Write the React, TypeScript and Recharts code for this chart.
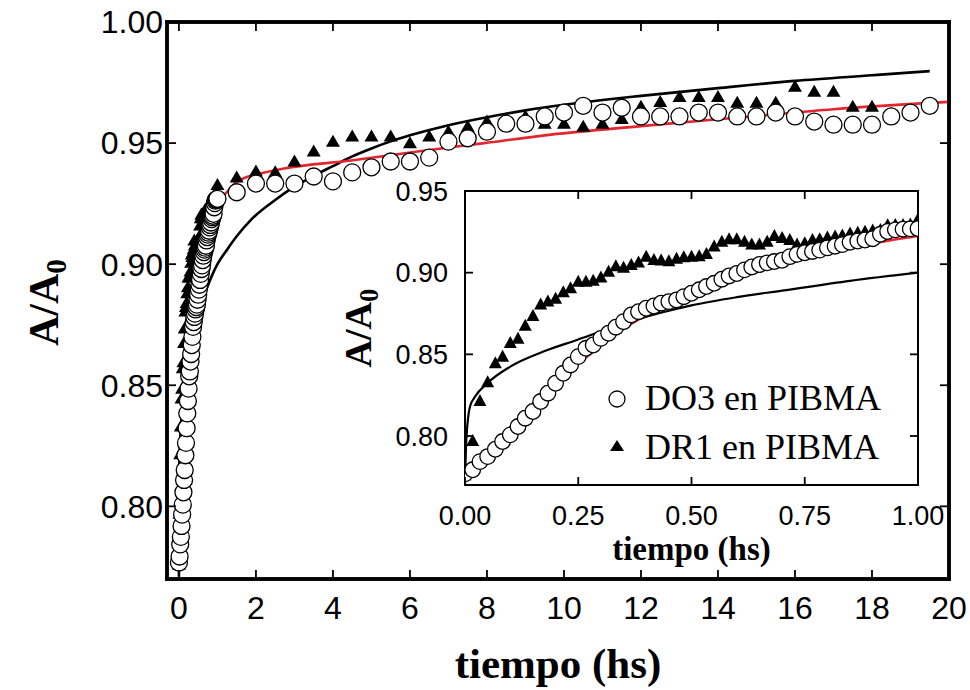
import React from 'react';
import { ComposedChart, Scatter, Line, XAxis, YAxis, Label, Legend, CartesianGrid, ReferenceArea } from 'recharts';

// ---------- data (time in hours, A/A0) ----------
const INSET_T = [
  0, 0.017, 0.033, 0.05, 0.067, 0.083, 0.1, 0.117, 0.133, 0.15, 0.167, 0.183, 0.2, 0.217, 0.233, 0.25,
  0.267, 0.283, 0.3, 0.317, 0.333, 0.35, 0.367, 0.383, 0.4, 0.417, 0.433, 0.45, 0.467, 0.483, 0.5,
  0.517, 0.533, 0.55, 0.567, 0.583, 0.6, 0.617, 0.633, 0.65, 0.667, 0.683, 0.7, 0.717, 0.733, 0.75,
  0.767, 0.783, 0.8, 0.817, 0.833, 0.85, 0.867, 0.883, 0.9, 0.917, 0.933, 0.95, 0.967, 0.983, 1.0,
];
const DO3_EARLY = [
  0.7768, 0.7793, 0.7843, 0.7874, 0.7919, 0.7966, 0.8007, 0.8058, 0.8109, 0.815, 0.8211, 0.8262, 0.8323,
  0.8384, 0.8435, 0.8486, 0.8537, 0.8557, 0.8598, 0.8629, 0.8666, 0.87, 0.8741, 0.8761, 0.8782, 0.8796,
  0.8813, 0.8823, 0.8833, 0.8853, 0.8874, 0.8895, 0.8915, 0.8935, 0.896, 0.898, 0.8995, 0.9017, 0.9035,
  0.905, 0.906, 0.9068, 0.9076, 0.9098, 0.9112, 0.9122, 0.913, 0.9138, 0.9152, 0.9162, 0.9172, 0.9186,
  0.9194, 0.92, 0.9208, 0.9235, 0.9252, 0.9262, 0.9266, 0.9268, 0.927,
];
const DR1_EARLY = [
  0.776, 0.797, 0.8215, 0.833, 0.8445, 0.8486, 0.857, 0.8595, 0.8675, 0.8735, 0.8805, 0.8823, 0.884,
  0.888, 0.8905, 0.8945, 0.8945, 0.895, 0.897, 0.9006, 0.904, 0.903, 0.9047, 0.9062, 0.9098, 0.9078,
  0.9075, 0.907, 0.9085, 0.9095, 0.9098, 0.91, 0.9115, 0.916, 0.919, 0.9205, 0.9205, 0.919, 0.9172,
  0.9172, 0.919, 0.9225, 0.9212, 0.92, 0.9172, 0.918, 0.92, 0.9205, 0.9215, 0.9222, 0.9228, 0.924,
  0.9245, 0.925, 0.9258, 0.9262, 0.929, 0.9292, 0.9292, 0.9295, 0.9327,
];
const LATE_T = [
  1.5, 2, 2.5, 3, 3.5, 4, 4.5, 5, 5.5, 6, 6.5, 7, 7.5, 8, 8.5, 9, 9.5, 10, 10.5, 11, 11.5, 12, 12.5,
  13, 13.5, 14, 14.5, 15, 15.5, 16, 16.5, 17, 17.5, 18, 18.5, 19, 19.5,
];
const DO3_LATE = [
  0.9297, 0.9333, 0.9333, 0.9333, 0.9362, 0.9342, 0.9379, 0.94, 0.9424, 0.9424, 0.944, 0.9506, 0.952,
  0.9547, 0.958, 0.958, 0.961, 0.9626, 0.9654, 0.9626, 0.9646, 0.961, 0.961, 0.961, 0.9626, 0.9626,
  0.961, 0.961, 0.9626, 0.961, 0.9589, 0.9576, 0.9576, 0.9576, 0.961, 0.9626, 0.9654,
];
const DR1_LATE = [
  0.9358, 0.9383, 0.938, 0.9424, 0.9465, 0.9506, 0.9527, 0.9527, 0.9527, 0.95, 0.9527, 0.9547, 0.9568,
  0.9589, 0.96, 0.961, 0.958, 0.958, 0.9568, 0.958, 0.96, 0.965, 0.967, 0.969, 0.969, 0.969, 0.9667,
  0.9667, 0.9667, 0.9733, 0.9712, 0.9712, 0.965, 0.965, 0.962, 0.963, 0.966,
];
const BLACK_FIT_T = [
  0, 0.003, 0.011, 0.022, 0.048, 0.1, 0.173, 0.247, 0.321, 0.43, 0.5, 0.6, 0.7, 0.85, 1.0, 1.25, 1.5,
  1.87, 2.5, 3, 3.5, 4, 4.5, 5, 5.5, 6, 7, 8, 9, 10, 11, 12, 14, 16, 18, 19.5,
];
const BLACK_FIT_A = [
  0.771, 0.798, 0.818, 0.824, 0.832, 0.8425, 0.8517, 0.8588, 0.866, 0.8753, 0.88, 0.885, 0.889, 0.895,
  0.9, 0.906, 0.9115, 0.9183, 0.9265, 0.932, 0.9365, 0.9405, 0.9445, 0.9478, 0.9507, 0.9532, 0.9574,
  0.9607, 0.9635, 0.9658, 0.9678, 0.9695, 0.9727, 0.9757, 0.978, 0.9797,
];
const RED_FIT_T = [
  0, 0.063, 0.136, 0.21, 0.284, 0.358, 0.431, 0.498, 0.56, 0.624, 0.7, 0.77, 0.85, 0.918, 1.0, 1.12,
  1.26, 1.5, 1.76, 2.0, 2.73, 4.47, 6.2, 7.93, 9.66, 12, 14.86, 17, 20,
];
const RED_FIT_A = [
  0.775, 0.7945, 0.816, 0.8354, 0.8517, 0.867, 0.8782, 0.8864, 0.893, 0.8986, 0.9045, 0.9096, 0.9148,
  0.9188, 0.9225, 0.9275, 0.93, 0.934, 0.936, 0.937, 0.9395, 0.9428, 0.9465, 0.95, 0.9535, 0.957, 0.961,
  0.964, 0.967,
];

const LEGEND_LABELS = ['DO3 en PIBMA', 'DR1 en PIBMA'];
const MAIN_X_TICKS = [0, 2, 4, 6, 8, 10, 12, 14, 16, 18, 20];
const MAIN_Y_TICKS = [0.8, 0.85, 0.9, 0.95, 1.0];
const INSET_X_TICKS = [0, 0.25, 0.5, 0.75, 1.0];
const INSET_Y_TICKS = [0.8, 0.85, 0.9, 0.95];
const X_TITLE = 'tiempo (hs)';
const MAIN_X_DOMAIN: [number, number] = [-0.31, 20];
const MAIN_Y_DOMAIN: [number, number] = [0.77, 1.0];
const INSET_X_DOMAIN: [number, number] = [0, 1];
const INSET_Y_DOMAIN: [number, number] = [0.77, 0.95];

// ---------- derived series ----------
const zip = (t: number[], a: number[]) => t.map((x, i) => ({ x, y: a[i] }));
const do3Inset = zip(INSET_T, DO3_EARLY);
const dr1Inset = zip(INSET_T, DR1_EARLY);
const do3Main = [...do3Inset, ...zip(LATE_T, DO3_LATE)];
const dr1Main = [...dr1Inset, ...zip(LATE_T, DR1_LATE)];
const blackFit = zip(BLACK_FIT_T, BLACK_FIT_A);
const redFit = zip(RED_FIT_T, RED_FIT_A);
const blackInset = blackFit.filter((p) => p.x <= 1.0001);
const redInset = redFit.filter((p) => p.x <= 1.0001);

const RED = '#e3262e';
const SANS = '"Liberation Sans", Arial, sans-serif';
const SERIF = '"Liberation Serif", "Times New Roman", serif';

const circleShape = (r: number) => (props: any) => (
  <circle cx={props.cx} cy={props.cy} r={r} fill="#fff" stroke="#000" strokeWidth={1.3} />
);
const triShape = (w: number, h: number) => (props: any) => {
  const { cx, cy } = props;
  return (
    <polygon
      points={`${cx},${cy - h * 0.58} ${cx - w / 2},${cy + h * 0.42} ${cx + w / 2},${cy + h * 0.42}`}
      fill="#000"
    />
  );
};

// custom ticks: inward tick mark + optional label
type Orient = 'bottom' | 'top' | 'left' | 'right';
const makeTick =
  (orient: Orient, len: number, margin: number, fontSize: number, showLabel: boolean, digits: number | null) =>
  (props: any) => {
    const { x, y, payload } = props;
    const c = Number(payload.coordinate);
    const px = Number(x);
    const py = Number(y);
    const v = payload.value as number;
    const txt = digits === null ? String(v) : v.toFixed(digits);
    let line: React.ReactNode = null;
    let label: React.ReactNode = null;
    if (orient === 'bottom') {
      const ay = py - margin;
      line = <rect x={c - 0.9} y={ay - len} width={1.8} height={len} fill="#000" />;
      if (showLabel)
        label = (
          <text x={c} y={py} dy="0.71em" textAnchor="middle" fontSize={fontSize} fontFamily={SANS} fill="#000">
            {txt}
          </text>
        );
    } else if (orient === 'left') {
      const ax = px + margin;
      line = <rect x={ax} y={c - 0.9} width={len} height={1.8} fill="#000" />;
      if (showLabel)
        label = (
          <text x={px} y={c} dy="0.355em" textAnchor="end" fontSize={fontSize} fontFamily={SANS} fill="#000">
            {txt}
          </text>
        );
    } else if (orient === 'top') {
      const ay = py + margin;
      line = <rect x={c - 0.9} y={ay} width={1.8} height={len} fill="#000" />;
    } else {
      const ax = px - margin;
      line = <rect x={ax - len} y={c - 0.9} width={len} height={1.8} fill="#000" />;
    }
    return (
      <g>
        {line}
        {label}
      </g>
    );
  };

const xTitle = (dy: number, fontSize: number) => (props: any) => {
  const vb = props.viewBox;
  return (
    <text
      x={vb.x + vb.width / 2}
      y={vb.y + dy}
      textAnchor="middle"
      fontFamily={SERIF}
      fontWeight="bold"
      fontSize={fontSize}
      fill="#000"
    >
      {X_TITLE}
    </text>
  );
};

const yTitle = (bx: number, cyOff: number, fontSize: number) => (props: any) => {
  const vb = props.viewBox;
  const x = vb.x + bx;
  const y = vb.y + vb.height / 2 + cyOff;
  return (
    <text
      x={x}
      y={y}
      transform={`rotate(-90, ${x}, ${y})`}
      textAnchor="middle"
      fontFamily={SERIF}
      fontWeight="bold"
      fontSize={fontSize}
      fill="#000"
    >
      A/A
      <tspan dy="0.28em" fontSize="70%">
        0
      </tspan>
    </text>
  );
};

const renderLegend = () => (
  <div style={{ fontFamily: SERIF, fontSize: 36, color: '#000' }}>
    {LEGEND_LABELS.map((label, i) => (
      <div key={label} style={{ display: 'flex', alignItems: 'center', height: 49 }}>
        <svg width={34} height={30} style={{ display: 'block' }}>
          {i === 0 ? (
            <circle cx={17} cy={15} r={8} fill="#fff" stroke="#000" strokeWidth={1.3} />
          ) : (
            <polygon points="17,7 10,18 24,18" fill="#000" />
          )}
        </svg>
        <span style={{ marginLeft: 11, lineHeight: '49px', whiteSpace: 'nowrap' }}>{label}</span>
      </div>
    ))}
  </div>
);

const mainAxisLine = { stroke: '#000', strokeWidth: 3.5, strokeLinecap: 'square' as const };
const insetAxisLine = { stroke: '#000', strokeWidth: 2, strokeLinecap: 'square' as const };

export default function App() {
  return (
    <div style={{ position: 'absolute', left: 0, top: 0, width: 970, height: 690, background: '#fff' }}>
      {/* main chart */}
      <div style={{ position: 'absolute', left: 0, top: 0 }}>
        <ComposedChart width={970} height={690} margin={{ top: 21, right: 20, bottom: 0, left: 0 }}>
          <ReferenceArea
            xAxisId="b"
            yAxisId="l"
            x1={MAIN_X_DOMAIN[0]}
            x2={MAIN_X_DOMAIN[1]}
            y1={MAIN_Y_DOMAIN[0]}
            y2={MAIN_Y_DOMAIN[1]}
            fill="none"
            fillOpacity={0}
            stroke="#000"
            strokeWidth={3.5}
            strokeOpacity={1}
          />
          <XAxis
            xAxisId="b"
            type="number"
            dataKey="x"
            domain={MAIN_X_DOMAIN}
            allowDataOverflow
            ticks={MAIN_X_TICKS}
            interval={0}
            height={111}
            tick={makeTick('bottom', 9, 17, 32, true, null)}
            tickSize={0}
            tickMargin={17}
            tickLine={false}
            axisLine={mainAxisLine}
          >
            <Label content={xTitle(99, 43)} />
          </XAxis>
          <XAxis
            xAxisId="t"
            orientation="top"
            type="number"
            dataKey="x"
            domain={MAIN_X_DOMAIN}
            allowDataOverflow
            ticks={MAIN_X_TICKS}
            interval={0}
            height={1}
            tick={makeTick('top', 9, 0, 0, false, null)}
            tickSize={0}
            tickMargin={0}
            tickLine={false}
            axisLine={mainAxisLine}
          />
          <YAxis
            yAxisId="l"
            type="number"
            dataKey="y"
            domain={MAIN_Y_DOMAIN}
            allowDataOverflow
            ticks={MAIN_Y_TICKS}
            interval={0}
            width={167}
            tick={makeTick('left', 9, 4, 32, true, 2)}
            tickSize={0}
            tickMargin={4}
            tickLine={false}
            axisLine={mainAxisLine}
          >
            <Label content={yTitle(58, 2, 42)} />
          </YAxis>
          <YAxis
            yAxisId="r"
            orientation="right"
            type="number"
            dataKey="y"
            domain={MAIN_Y_DOMAIN}
            allowDataOverflow
            ticks={MAIN_Y_TICKS}
            interval={0}
            width={1}
            tick={makeTick('right', 9, 0, 0, false, 2)}
            tickSize={0}
            tickMargin={0}
            tickLine={false}
            axisLine={mainAxisLine}
          />
          <Line
            data={redFit}
            dataKey="y"
            xAxisId="t"
            yAxisId="r"
            stroke="none"
            dot={false}
            activeDot={false}
            legendType="none"
            isAnimationActive={false}
          />
          <Scatter
            name="DR1"
            data={dr1Main}
            xAxisId="b"
            yAxisId="l"
            shape={triShape(14, 12)}
            isAnimationActive={false}
          />
          <Scatter
            name="DO3"
            data={do3Main}
            xAxisId="b"
            yAxisId="l"
            shape={circleShape(8.5)}
            isAnimationActive={false}
          />
          <Line
            data={blackFit}
            dataKey="y"
            xAxisId="b"
            yAxisId="l"
            type="monotone"
            stroke="#000"
            strokeWidth={2.6}
            dot={false}
            activeDot={false}
            isAnimationActive={false}
          />
          <Line
            data={redFit}
            dataKey="y"
            xAxisId="b"
            yAxisId="l"
            type="monotone"
            stroke={RED}
            strokeWidth={2.6}
            dot={false}
            activeDot={false}
            isAnimationActive={false}
          />
        </ComposedChart>
      </div>

      {/* inset chart */}
      <div style={{ position: 'absolute', left: 0, top: 0 }}>
        <ComposedChart width={970} height={690} margin={{ top: 190, right: 51, bottom: 0, left: 0 }}>
          <CartesianGrid xAxisId="b" yAxisId="l" horizontal={false} vertical={false} fill="#fff" />
          <ReferenceArea
            xAxisId="b"
            yAxisId="l"
            x1={INSET_X_DOMAIN[0]}
            x2={INSET_X_DOMAIN[1]}
            y1={INSET_Y_DOMAIN[0]}
            y2={INSET_Y_DOMAIN[1]}
            fill="none"
            fillOpacity={0}
            stroke="#000"
            strokeWidth={2}
            strokeOpacity={1}
          />
          <XAxis
            xAxisId="b"
            type="number"
            dataKey="x"
            domain={INSET_X_DOMAIN}
            allowDataOverflow
            ticks={INSET_X_TICKS}
            interval={0}
            height={205}
            tick={makeTick('bottom', 8, 21, 27, true, 2)}
            tickSize={0}
            tickMargin={21}
            tickLine={false}
            axisLine={insetAxisLine}
          >
            <Label content={xTitle(75, 33)} />
          </XAxis>
          <XAxis
            xAxisId="t"
            orientation="top"
            type="number"
            dataKey="x"
            domain={INSET_X_DOMAIN}
            allowDataOverflow
            ticks={INSET_X_TICKS}
            interval={0}
            height={1}
            tick={makeTick('top', 8, 0, 0, false, 2)}
            tickSize={0}
            tickMargin={0}
            tickLine={false}
            axisLine={insetAxisLine}
          />
          <YAxis
            yAxisId="l"
            type="number"
            dataKey="y"
            domain={INSET_Y_DOMAIN}
            allowDataOverflow
            ticks={INSET_Y_TICKS}
            interval={0}
            width={465}
            tick={makeTick('left', 8, 17, 27, true, 2)}
            tickSize={0}
            tickMargin={17}
            tickLine={false}
            axisLine={insetAxisLine}
          >
            <Label content={yTitle(371, -10, 38)} />
          </YAxis>
          <YAxis
            yAxisId="r"
            orientation="right"
            type="number"
            dataKey="y"
            domain={INSET_Y_DOMAIN}
            allowDataOverflow
            ticks={INSET_Y_TICKS}
            interval={0}
            width={1}
            tick={makeTick('right', 8, 0, 0, false, 2)}
            tickSize={0}
            tickMargin={0}
            tickLine={false}
            axisLine={insetAxisLine}
          />
          <Line
            data={redInset}
            dataKey="y"
            xAxisId="t"
            yAxisId="r"
            stroke="none"
            dot={false}
            activeDot={false}
            legendType="none"
            isAnimationActive={false}
          />
          <Scatter
            name="DR1"
            data={dr1Inset}
            xAxisId="b"
            yAxisId="l"
            shape={triShape(13, 12)}
            isAnimationActive={false}
          />
          <Scatter
            name="DO3"
            data={do3Inset}
            xAxisId="b"
            yAxisId="l"
            shape={circleShape(7.8)}
            isAnimationActive={false}
          />
          <Line
            data={blackInset}
            dataKey="y"
            xAxisId="b"
            yAxisId="l"
            type="monotone"
            stroke="#000"
            strokeWidth={2.2}
            dot={false}
            activeDot={false}
            isAnimationActive={false}
          />
          <Line
            data={redInset}
            dataKey="y"
            xAxisId="b"
            yAxisId="l"
            type="monotone"
            stroke={RED}
            strokeWidth={2.4}
            dot={false}
            activeDot={false}
            isAnimationActive={false}
          />
          <Legend
            layout="horizontal"
            verticalAlign="middle"
            align="center"
            content={renderLegend}
            wrapperStyle={{ position: 'absolute', left: 600, top: 374, width: 330, height: 98 }}
          />
        </ComposedChart>
      </div>
    </div>
  );
}
